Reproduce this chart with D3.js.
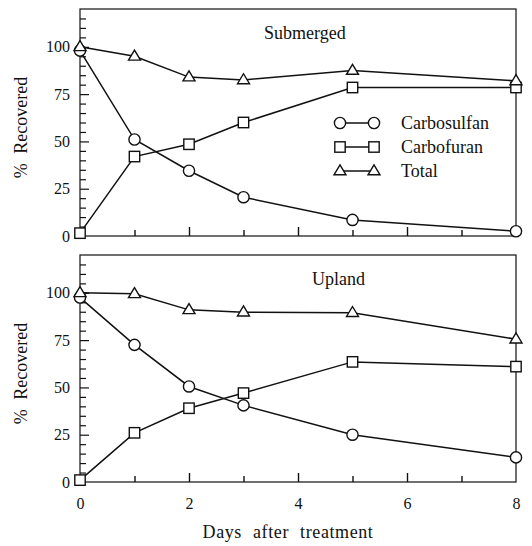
<!DOCTYPE html>
<html><head><meta charset="utf-8">
<script src="https://cdn.jsdelivr.net/npm/d3@7"></script>
<style>body{margin:0;background:#fff}svg{display:block}svg text{font-family:'Liberation Serif','Times New Roman',Tinos,serif !important}</style>
</head><body><svg id="c" width="532" height="546"></svg>
<script>
const days = [0, 1, 2, 3, 5, 8];
const xTicks = [0, 2, 4, 6, 8];
const yTicks = [0, 25, 50, 75, 100];
const panels = ["Submerged", "Upland"];
const seriesNames = ["Carbosulfan", "Carbofuran", "Total"];
const subCarbosulfan = [98, 51, 34.5, 20.5, 8.5, 2.5];
const subCarbofuran = [1.5, 42, 48.5, 60, 78.5, 78.5];
const subTotal = [100, 95, 84, 82.5, 87.5, 82];
const upCarbosulfan = [97.5, 72.5, 50.5, 40.5, 25, 13];
const upCarbofuran = [1, 26, 39, 47, 63.5, 61];
const upTotal = [100, 99.5, 91, 89.8, 89.5, 75.5];
const symbols = ["circle", "square", "triangle"];

const data = [
  [subCarbosulfan, subCarbofuran, subTotal],
  [upCarbosulfan, upCarbofuran, upTotal]
];

const FONT = "'Liberation Serif','Times New Roman',serif";
const svg = d3.select("#c").style("font-family", FONT);
const x = d3.scaleLinear().domain([0, 8]).range([80, 516]);
const panelY = [[236, 9], [482, 255]];
const stroke = "#111";

function txt(sel) { return sel.style("font-family", FONT).attr("fill", "#111"); }

function marker(g, type, cx, cy) {
  if (type === "circle") {
    g.append("circle").attr("cx", cx).attr("cy", cy).attr("r", 5.6)
      .attr("fill", "#fff").attr("stroke", stroke).attr("stroke-width", 1.4);
  } else if (type === "square") {
    g.append("rect").attr("x", cx - 5.2).attr("y", cy - 5.2).attr("width", 10.4).attr("height", 10.4)
      .attr("fill", "#fff").attr("stroke", stroke).attr("stroke-width", 1.4);
  } else {
    const h = 10, w = 12;
    g.append("path").attr("d", `M${cx},${cy - h * 0.62}L${cx + w / 2},${cy + h * 0.38}L${cx - w / 2},${cy + h * 0.38}Z`)
      .attr("fill", "#fff").attr("stroke", stroke).attr("stroke-width", 1.4);
  }
}

panels.forEach((name, pi) => {
  const y = d3.scaleLinear().domain([0, 120]).range(panelY[pi]);
  const g = svg.append("g");
  g.append("rect").attr("x", x(0)).attr("y", y(120)).attr("width", x(8) - x(0)).attr("height", y(0) - y(120))
    .attr("fill", "none").attr("stroke", stroke).attr("stroke-width", 1.2);
  const xa = d3.axisTop(x).tickValues(d3.range(1, 8)).tickSize(0).tickFormat("");
  const xg = g.append("g").attr("transform", `translate(0,${y(0)})`).call(xa);
  xg.select(".domain").remove();
  xg.selectAll(".tick line").attr("y2", d => (d % 2 === 0 ? -9 : -6)).attr("stroke", stroke).attr("stroke-width", 1.4);
  const ya = d3.axisRight(y).tickValues(d3.range(5, 120, 5)).tickSize(0).tickFormat("");
  const yg = g.append("g").attr("transform", `translate(${x(0)},0)`).call(ya);
  yg.select(".domain").remove();
  yg.selectAll(".tick line").attr("x2", d => (d % 25 === 0 ? 9 : 6)).attr("stroke", stroke).attr("stroke-width", 1.2);
  const yl = d3.axisLeft(y).tickValues(yTicks).tickSize(0).tickPadding(10);
  const ylg = g.append("g").attr("transform", `translate(${x(0)},0)`).call(yl);
  ylg.attr("font-family", null);
  ylg.select(".domain").remove();
  txt(ylg.selectAll("text").attr("font-size", 16));
  txt(g.append("text").attr("transform", `translate(27,${(y(0) + y(120)) / 2 + 5}) rotate(-90)`)
    .attr("text-anchor", "middle").attr("font-size", 18)
    .attr("word-spacing", 5).text("% Recovered"));
  txt(g.append("text").attr("x", pi === 0 ? 264 : 312).attr("y", y(120) + 30)
    .attr("font-size", 18).text(name));
  const line = d3.line().x((d, i) => x(days[i])).y(d => y(d));
  data[pi].forEach((vals) => {
    g.append("path").attr("d", line(vals)).attr("fill", "none").attr("stroke", stroke).attr("stroke-width", 1.5);
  });
  data[pi].forEach((vals, si) => {
    vals.forEach((v, i) => marker(g, symbols[si], x(days[i]), y(v)));
  });
  if (pi === 0) {
    seriesNames.forEach((s, si) => {
      const ly = 123 + si * 24;
      g.append("line").attr("x1", 340).attr("x2", 374).attr("y1", ly).attr("y2", ly)
        .attr("stroke", stroke).attr("stroke-width", 1.4);
      marker(g, symbols[si], 340, ly);
      marker(g, symbols[si], 374, ly);
      txt(g.append("text").attr("x", 401).attr("y", ly + 6).attr("font-size", 18).text(s));
    });
  }
});

const xl = d3.axisBottom(x).tickValues(xTicks).tickSize(0).tickPadding(0).tickFormat(d3.format("d"));
const xlg = svg.append("g").attr("transform", `translate(0,${498})`).call(xl);
xlg.attr("font-family", null);
xlg.select(".domain").remove();
txt(xlg.selectAll("text").attr("font-size", 16));
txt(svg.append("text").attr("x", 288).attr("y", 538).attr("text-anchor", "middle").attr("font-size", 18)
  .attr("letter-spacing", 0.6).attr("word-spacing", 6)
  .text("Days after treatment"));
</script></body></html>
